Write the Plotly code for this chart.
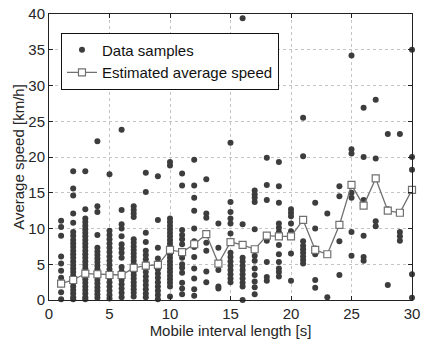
import plotly.graph_objects as go

# Mobile interval lengths [s]
interval_lengths = list(range(1, 31))

# Measured speed samples [km/h], one list per interval length
sample_speeds = [
    [11.1, 10.2, 9.0, 6.1, 5.1, 4.1, 3.1, 2.2, 1.1, 0.1],
    [18.0, 15.6, 14.6, 12.1, 10.8, 9.5, 9.0, 8.4, 7.9, 7.4, 6.9, 6.4, 5.9, 5.4, 4.9,
     4.4, 3.9, 3.4, 2.9, 2.4, 1.9, 1.4, 0.9, 0.4, 0.1],
    [18.0, 12.7, 11.4, 10.9, 10.4, 9.9, 9.4, 8.9, 8.4, 7.9, 7.4, 6.9, 6.4, 5.9, 5.4,
     4.9, 4.4, 3.9, 3.4, 2.9, 2.4, 1.9, 1.4, 0.9, 0.4, 0.1],
    [22.2, 13.1, 12.3, 9.1, 7.3, 6.8, 6.3, 5.8, 5.3, 4.8, 4.3, 3.8, 3.3, 2.8, 2.3,
     1.8, 1.3, 0.8, 0.3],
    [17.6, 9.7, 9.1, 8.5, 7.9, 7.3, 6.7, 6.1, 5.5, 4.9, 4.3, 3.7, 3.1, 2.5, 1.9, 1.3,
     0.7, 0.2],
    [23.8, 12.6, 10.6, 10.0, 8.9, 7.8, 7.2, 6.6, 5.9, 4.6, 4.0, 3.4, 2.8, 2.2, 1.6,
     1.0, 0.4],
    [13.1, 12.6, 12.1, 11.6, 8.5, 8.0, 7.5, 7.0, 6.5, 6.0, 5.5, 5.0, 4.5, 4.0, 3.5,
     3.0, 2.5, 2.0, 1.5, 1.0, 0.5],
    [17.8, 15.1, 9.4, 8.1, 6.9, 6.3, 5.7, 5.1, 4.5, 3.9, 3.3, 2.7, 2.1, 1.5, 0.9, 0.4],
    [17.3, 11.2, 7.3, 5.8, 4.9, 4.3, 3.7, 3.1, 2.5, 1.9, 1.3, 0.7, 0.1],
    [19.3, 18.8, 11.4, 10.9, 10.4, 9.9, 9.4, 8.9, 8.4, 7.9, 7.4, 6.9, 6.4, 5.9, 5.4,
     4.9, 4.4, 3.9, 3.4, 2.9, 2.4, 1.9, 0.5],
    [17.7, 16.0, 9.8, 9.1, 8.5, 7.8, 5.9, 5.0, 4.5, 3.8, 2.4, 1.6, 0.8],
    [19.6, 16.0, 14.3, 12.5, 10.0, 8.2, 7.4, 6.0, 4.4, 3.0, 1.5, 0.6],
    [16.9, 12.1, 11.5, 8.0, 6.9, 4.0, 2.5],
    [10.7, 7.3, 4.2, 1.9, 1.6],
    [22.0, 13.7, 12.3, 11.4, 10.7, 9.3, 8.1, 6.6, 6.0, 5.4, 4.8, 4.2, 3.6, 3.0, 2.5],
    [39.4, 10.6, 5.9, 5.4, 4.8, 4.2, 3.6, 3.0, 2.4, 1.9, 0.0],
    [15.3, 14.8, 14.3, 13.7, 9.9, 6.2, 5.5, 4.4, 3.5, 2.6, 1.8, 0.8],
    [19.9, 16.1, 14.0, 8.3, 5.3, 3.2, 2.7],
    [19.3, 15.9, 13.6, 10.7, 10.1, 9.5, 7.7, 6.4, 5.3, 4.4, 3.9, 3.3],
    [12.7, 12.2, 11.7, 10.7, 9.6, 6.5, 2.7],
    [25.5, 20.1, 8.2, 7.6, 7.1, 6.6, 6.1, 5.6, 5.1],
    [13.6, 10.0, 7.2, 6.4, 2.8, 1.7],
    [12.1, 6.3, 0.4],
    [15.9, 14.5, 8.2, 3.5],
    [34.2, 21.1, 20.5, 15.0, 14.3, 9.5, 6.2],
    [26.9, 20.0, 14.0, 9.0, 6.0, 5.5],
    [28.0, 19.8, 11.0, 10.3],
    [23.2, 12.7, 2.1],
    [23.2, 12.2, 9.5, 8.9, 8.3],
    [35.0, 20.0, 18.2, 15.3, 3.6, 0.3],
]

# Estimated average speed per interval length [km/h]
avg_speed = [2.3, 2.8, 3.7, 3.6, 3.5, 3.5, 4.5, 4.8, 4.9, 7.0, 6.7, 7.8, 9.2, 5.1, 8.1,
             7.7, 7.1, 9.0, 8.9, 8.9, 11.2, 7.0, 6.4, 10.5, 16.1, 13.2, 17.0, 12.5, 12.2,
             15.4]

x_ticks = [0, 5, 10, 15, 20, 25, 30]
y_ticks = [0, 5, 10, 15, 20, 25, 30, 35, 40]

sx, sy = [], []
for length, speeds in zip(interval_lengths, sample_speeds):
    for v in speeds:
        sx.append(length)
        sy.append(v)

FONT = "Liberation Sans, Arial, sans-serif"
TEXT = "#262626"

fig = go.Figure()
fig.add_trace(go.Scatter(
    x=sx, y=sy, mode="markers", name="Data samples",
    marker=dict(symbol="circle", size=6, color="#3d3d3d"),
    cliponaxis=False,
))
fig.add_trace(go.Scatter(
    x=interval_lengths, y=avg_speed, mode="lines+markers",
    name="Estimated average speed",
    line=dict(color="#707070", width=1.3),
    marker=dict(symbol="square", size=7, color="white",
                line=dict(color="#707070", width=1.2)),
    cliponaxis=False,
))

axis_common = dict(
    showline=True, linecolor="#222", linewidth=1, mirror="ticks",
    ticks="inside", ticklen=4, tickcolor="#222",
    showgrid=True, gridcolor="#c4c4c4", griddash="dot", gridwidth=1,
    zeroline=False, ticklabeloverflow="allow",
    tickfont=dict(size=15, color=TEXT, family=FONT),
)

fig.update_xaxes(range=[0, 30], tickvals=x_ticks,
                 title=dict(text="Mobile interval length [s]", standoff=2,
                            font=dict(size=15, color=TEXT, family=FONT)),
                 **axis_common)
fig.update_yaxes(range=[0, 40], tickvals=y_ticks,
                 title=dict(text="Average speed [km/h]", standoff=0,
                            font=dict(size=15, color=TEXT, family=FONT)),
                 **axis_common)

fig.update_layout(
    width=425, height=344,
    margin=dict(l=49, r=7, t=5, b=44),
    paper_bgcolor="white", plot_bgcolor="white",
    font=dict(family=FONT, size=15, color=TEXT),
    showlegend=True,
    legend=dict(x=0.033, y=0.935, xanchor="left", yanchor="top",
                bgcolor="white", bordercolor="#111", borderwidth=1,
                font=dict(size=15, family=FONT, color="#111"),
                tracegroupgap=0, itemwidth=30),
)

fig.write_html("out.html")
